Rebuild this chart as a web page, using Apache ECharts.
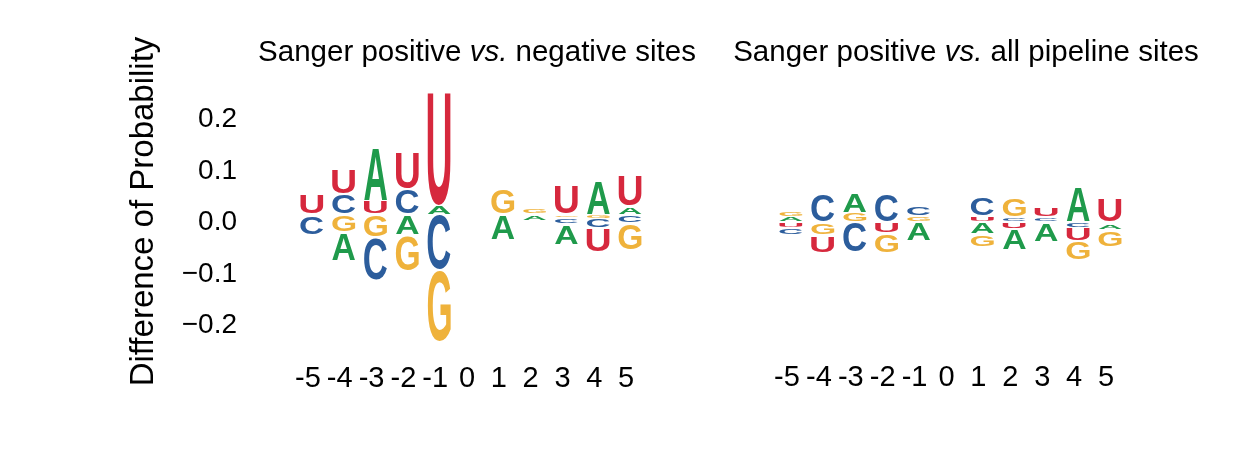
<!DOCTYPE html>
<html lang="en">
<head>
    <meta charset="UTF-8">
    <title>Difference of Probability logos</title>
    <script src="https://cdn.jsdelivr.net/npm/echarts@6/dist/echarts.min.js"></script>
    <style>
        html, body { margin: 0; background: #fff; }
        #chart1 { width: 1258px; height: 463px; }
    </style>
</head>
<body>
<div id="chart1"></div>
<script type="text/javascript">
    var positions = ['-5', '-4', '-3', '-2', '-1', '0', '1', '2', '3', '4', '5'];
    var bases = ['A', 'C', 'G', 'U'];

    // Sanger positive vs. negative sites
    var negA = [-0.001, -0.055, 0.104, -0.039, 0.018, 0, -0.048, -0.010, -0.040, 0.067, 0.016];
    var negC = [-0.038, 0.040, -0.084, 0.049, -0.108, 0, -0.001, -0.001, -0.012, -0.019, -0.017];
    var negG = [-0.001, -0.035, -0.045, -0.071, -0.140, 0, 0.050, 0.011, -0.007, -0.008, -0.052];
    var negU = [0.040, 0.050, 0.027, 0.072, 0.222, 0, -0.001, -0.001, 0.057, -0.046, 0.061];

    // Sanger positive vs. all pipeline sites
    var allA = [0.010, 0, 0.040, 0, -0.036, 0, -0.023, -0.041, -0.037, 0.068, -0.012];
    var allC = [-0.013, 0.056, -0.060, 0.056, 0.019, 0, 0.036, 0.010, 0.009, -0.011, -0.003];
    var allG = [0.011, -0.025, 0.018, -0.038, 0.012, 0, -0.025, 0.037, -0.002, -0.036, -0.033];
    var allU = [-0.012, -0.035, 0, -0.022, 0, 0, 0.011, -0.013, 0.020, -0.027, 0.047];

    var yTicks = [-0.2, -0.1, 0, 0.1, 0.2];

    var colors = {A: '#1f9a4b', C: '#2c5d9c', G: '#efb23b', U: '#d6283d'};
    var FONT = 'bold 100px "Liberation Sans"';
    var TXT = 'Liberation Sans';

    // ink box of each glyph, measured around the middle baseline zrender uses
    var ctx = document.createElement('canvas').getContext('2d');
    ctx.font = FONT;
    ctx.textBaseline = 'middle';
    ctx.textAlign = 'left';
    var glyph = {};
    bases.forEach(function (b) {
        var m = ctx.measureText(b);
        glyph[b] = {l: m.actualBoundingBoxLeft, r: m.actualBoundingBoxRight,
                    a: m.actualBoundingBoxAscent, d: m.actualBoundingBoxDescent};
    });

    // stack letters: small ones next to zero, big ones outside
    function stackLogo(cols) {
        var out = [];
        for (var i = 0; i < positions.length; i++) {
            var items = cols.map(function (c, k) { return {k: k, v: c[i]}; });
            var pos = items.filter(function (d) { return d.v > 0; }).sort(function (a, b) { return a.v - b.v; });
            var neg = items.filter(function (d) { return d.v < 0; }).sort(function (a, b) { return b.v - a.v; });
            var y = 0;
            pos.forEach(function (d) { out.push([i, y, y + d.v, d.k]); y += d.v; });
            y = 0;
            neg.forEach(function (d) { out.push([i, y + d.v, y, d.k]); y += d.v; });
        }
        return out;
    }

    function renderLetter(params, api) {
        var x = api.value(0);
        var b = bases[api.value(3)];
        var top = api.coord([x, api.value(2)]);
        var bot = api.coord([x, api.value(1)]);
        var w = api.size([1, 0])[0] * 0.72;
        var yt = top[1] + 1, yb = bot[1] - 1;
        if (yb - yt < 1) return null;
        var g = glyph[b];
        var sx = w / (g.l + g.r);
        var sy = (yb - yt) / (g.a + g.d);
        return {
            type: 'text',
            x: top[0] - w / 2 + sx * g.l,
            y: yt + sy * g.a,
            scaleX: sx,
            scaleY: sy,
            style: {
                text: b, font: FONT, fill: colors[b],
                align: 'left', verticalAlign: 'middle',
                textAlign: 'left', textVerticalAlign: 'middle'
            }
        };
    }

    var chart1 = echarts.init(document.getElementById('chart1'));

    function xAxisOf(grid, margin) {
        return {
            type: 'category', gridIndex: grid, data: positions,
            axisLine: {show: false}, axisTick: {show: false}, splitLine: {show: false},
            axisLabel: {fontSize: 29, fontFamily: TXT, color: '#000', margin: margin,
                        interval: 0, padding: [0, 8, 0, 0]}
        };
    }

    var titleStyle = {
        fontSize: 29.5, fontWeight: 'normal', fontFamily: TXT, color: '#000',
        rich: {i: {fontSize: 29.5, fontStyle: 'italic', fontFamily: TXT, color: '#000'}}
    };

    var option = {
        backgroundColor: '#fff',
        animation: false,
        title: [{
            text: 'Sanger positive {i|vs.} negative sites',
            left: 472, top: 33, textAlign: 'center', textStyle: titleStyle
        }, {
            text: 'Sanger positive {i|vs.} all pipeline sites',
            left: 961, top: 33, textAlign: 'center', textStyle: titleStyle
        }],
        grid: [
            {left: 296, top: 119.5, width: 350, height: 206},
            {left: 775, top: 119, width: 351, height: 206}
        ],
        xAxis: [xAxisOf(0, 38.5), xAxisOf(1, 38.5)],
        yAxis: [{
            // tick labels only
            type: 'value', gridIndex: 0,
            min: yTicks[0], max: yTicks[yTicks.length - 1], interval: 0.1,
            name: 'Difference of Probability', nameLocation: 'middle', nameGap: 136,
            nameTextStyle: {fontSize: 33, fontFamily: TXT, color: '#000', padding: [0, 0, 0, 22]},
            axisLine: {show: false}, axisTick: {show: false}, splitLine: {show: false},
            axisLabel: {
                fontSize: 28, fontFamily: TXT, color: '#000', margin: 59,
                formatter: function (v) { return (v < -1e-9 ? '\u2212' : '') + Math.abs(v).toFixed(1); }
            }
        }, {
            type: 'value', gridIndex: 1, show: false,
            min: yTicks[0], max: yTicks[yTicks.length - 1],
            axisLine: {show: false}, splitLine: {show: false}
        }, {
            // letters of the left logo sit a little above the labelled zero
            type: 'value', gridIndex: 0, show: false,
            min: -0.2155, max: 0.1845,
            axisLine: {show: false}, splitLine: {show: false}
        }],
        series: [{
            type: 'custom', xAxisIndex: 0, yAxisIndex: 2, clip: false,
            renderItem: renderLetter, encode: {x: 0, y: [1, 2]},
            data: stackLogo([negA, negC, negG, negU])
        }, {
            type: 'custom', xAxisIndex: 1, yAxisIndex: 1, clip: false,
            renderItem: renderLetter, encode: {x: 0, y: [1, 2]},
            data: stackLogo([allA, allC, allG, allU])
        }]
    };
    chart1.setOption(option);
</script>
</body>
</html>
